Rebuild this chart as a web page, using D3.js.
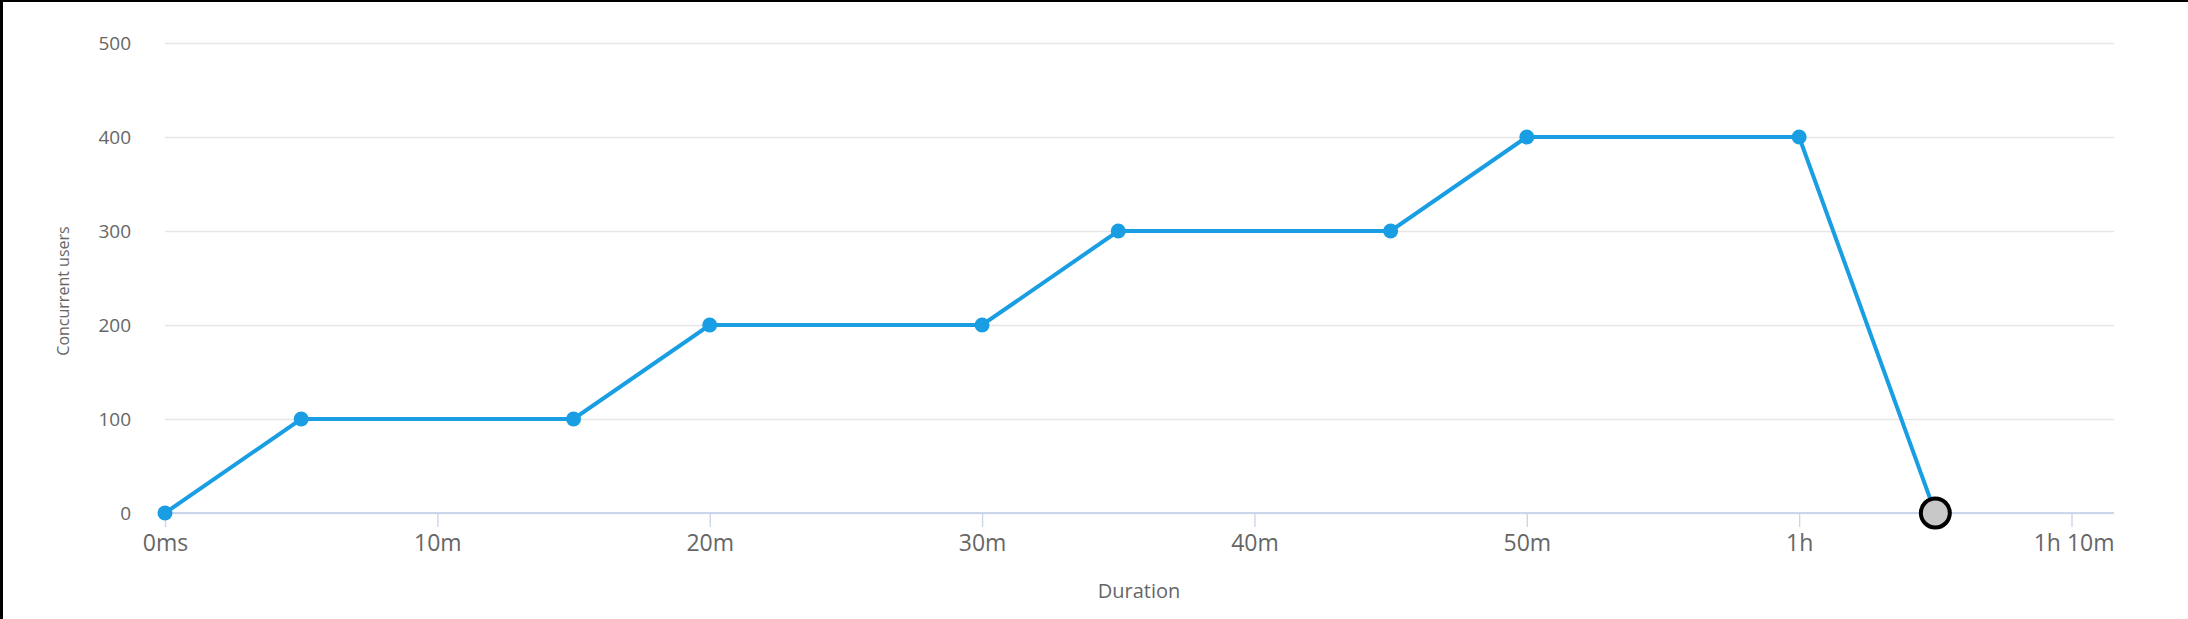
<!DOCTYPE html>
<html>

<head>
    <meta charset="utf-8">
    <script src="https://d3js.org/d3.v7.min.js"></script>
</head>

<style>
    body {
      margin: 0px;
      background: #fff;
    }
    .domain {
      display: none;
    }
    .tick text {
      fill: #666666;
      font-family: "Open Sans", sans-serif;
    }
    .axis-label {
      fill: #666666;
      font-family: "Open Sans", sans-serif;
    }
</style>

<body>
    <div id="my_dataviz"></div>
    <script>
        // minutes since start, and concurrent users at that time
        var minutes = [0, 5, 15, 20, 30, 35, 45, 50, 60, 65];
        var users = [0, 100, 100, 200, 200, 300, 300, 400, 400, 0];

        var xTicks = [0, 10, 20, 30, 40, 50, 60, 70];
        var xTickLabels = ["0ms", "10m", "20m", "30m", "40m", "50m", "1h", "1h 10m"];
        var yTicks = [0, 100, 200, 300, 400, 500];

        var W = 2188, H = 619;
        var margin = { top: 43, right: 74, bottom: 106, left: 165 },
            width = W - margin.left - margin.right,
            height = H - margin.top - margin.bottom;

        var root = d3.select("#my_dataviz")
            .append("svg")
            .attr("width", W)
            .attr("height", H);

        // black frame on top and left edge of the screenshot
        root.append("rect").attr("x", 0).attr("y", 0).attr("width", W).attr("height", 2).style("fill", "#000");
        root.append("rect").attr("x", 0).attr("y", 0).attr("width", 3).attr("height", H).style("fill", "#000");

        var svg = root.append("g")
            .attr("transform", "translate(" + margin.left + "," + margin.top + ")");

        var x = d3.scaleLinear()
            .domain([0, 71.56])
            .range([0, width]);

        var y = d3.scaleLinear()
            .domain([0, 500])
            .range([height, 0]);

        // horizontal grid + y labels
        var yAxis = svg.append("g")
            .call(d3.axisLeft(y)
                .tickValues(yTicks)
                .tickSize(-width)
                .tickPadding(34));
        yAxis.selectAll(".tick line")
            .style("stroke", "#e6e6e6")
            .style("stroke-width", 1.4);
        yAxis.selectAll(".tick text")
            .style("font-size", "19px");

        // x axis line and ticks
        svg.append("line")
            .attr("x1", 0).attr("x2", width)
            .attr("y1", height).attr("y2", height)
            .style("stroke", "#ccd6eb")
            .style("stroke-width", 2);

        var xAxis = svg.append("g")
            .attr("transform", "translate(0," + height + ")")
            .call(d3.axisBottom(x)
                .tickValues(xTicks)
                .tickFormat(function (d, i) { return xTickLabels[i]; })
                .tickSize(14)
                .tickPadding(8));
        xAxis.selectAll(".tick line")
            .style("stroke", "#ccd6eb")
            .style("stroke-width", 1.4);
        xAxis.selectAll(".tick text")
            .style("font-size", "23px");
        // last label would run past the plot edge, keep it inside
        xAxis.selectAll(".tick text")
            .filter(function (d) { return d === 70; })
            .attr("text-anchor", "end")
            .attr("x", x(71.56) - x(70));

        var data = minutes.map(function (m, i) { return { m: m, u: users[i] }; });

        var line = d3.line()
            .x(function (d) { return x(d.m); })
            .y(function (d) { return y(d.u); });

        svg.append("path")
            .datum(data)
            .attr("d", line)
            .style("fill", "none")
            .style("stroke", "#199ee3")
            .style("stroke-width", 4);

        svg.selectAll(".dot")
            .data(data.slice(0, data.length - 1))
            .enter()
            .append("circle")
            .attr("class", "dot")
            .attr("cx", function (d) { return x(d.m); })
            .attr("cy", function (d) { return y(d.u); })
            .attr("r", 7.5)
            .style("fill", "#199ee3");

        // hovered last point
        var last = data[data.length - 1];
        svg.append("circle")
            .attr("cx", x(last.m))
            .attr("cy", y(last.u))
            .attr("r", 14.5)
            .style("fill", "#c8c8c8")
            .style("stroke", "#000")
            .style("stroke-width", 4);

        // axis titles
        root.append("text")
            .attr("class", "axis-label")
            .attr("text-anchor", "middle")
            .attr("x", 1139)
            .attr("y", 598)
            .style("font-size", "20px")
            .text("Duration");

        root.append("text")
            .attr("class", "axis-label")
            .attr("text-anchor", "middle")
            .attr("transform", "translate(69,291) rotate(-90)")
            .style("font-size", "16px")
            .text("Concurrent users");
    </script>
</body>

</html>
